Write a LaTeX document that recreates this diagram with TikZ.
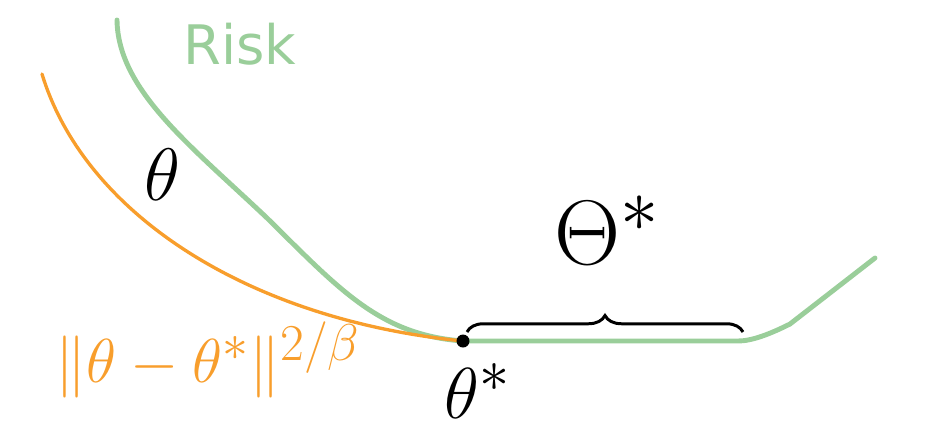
\documentclass[tikz,border=0pt]{standalone}
\usepackage{fontspec}
\newfontfamily\risksans{DejaVu Sans}
\usepackage{tikz}
\usetikzlibrary{decorations.pathreplacing, positioning}
\definecolor{riskgreen}{RGB}{154,206,154}
\definecolor{boundorange}{RGB}{248,158,44}
\tikzstyle{riskline} = [draw=riskgreen, line width=2.8pt, line cap=round, line join=round]
\tikzstyle{boundline} = [draw=boundorange, line width=1.9pt, line cap=round]
\tikzstyle{bigmath} = [inner sep=0pt, font=\Huge]
\tikzstyle{setbrace} = [decorate, decoration={brace, amplitude=0.33cm}, line width=1.7pt]

\begin{document}
\begin{tikzpicture}[x=0.02cm, y=-0.02cm]
    \useasboundingbox (0,0) rectangle (934,434);
    % risk curve, flat on the set of minimisers
    \draw[riskline] (117,20) .. controls (118,90) and (190,145) .. (267,218)
        .. controls (340,290) and (380,335) .. (463,341)
        -- (738,341) .. controls (752,341) and (770,334) .. (790,324) -- (875,258);
    % orange bound
    \draw[boundline] (42,74) .. controls (85,215) and (250,320) .. (463,341);
    \node (thetastar) [circle, fill=black, inner sep=0pt, minimum size=0.26cm] at (463,341) {};
    \coordinate (braceleft) at (467,332);
    \coordinate (braceright) at (743,332);
    \draw[setbrace] (braceleft) -- (braceright);

    \node (risk) [inner sep=0pt, text=riskgreen, font=\risksans\fontsize{31}{36}\selectfont] at (240,44) {Risk};
    \node (theta) [bigmath] at (162,175) {\scalebox{1.7}{$\theta$}};
    \node (thetastarlabel) [bigmath] at (478,391) {\scalebox{1.65}{$\theta^*$}};
    \node (setlabel) [bigmath] at (608,230) {\scalebox{2.1}{$\Theta^*$}};
    \node (bound) [bigmath, text=boundorange] at (208,360)
        {\scalebox{1.42}{$\|\theta-\theta^*\|^{2/\beta}$}};
\end{tikzpicture}
\end{document}
